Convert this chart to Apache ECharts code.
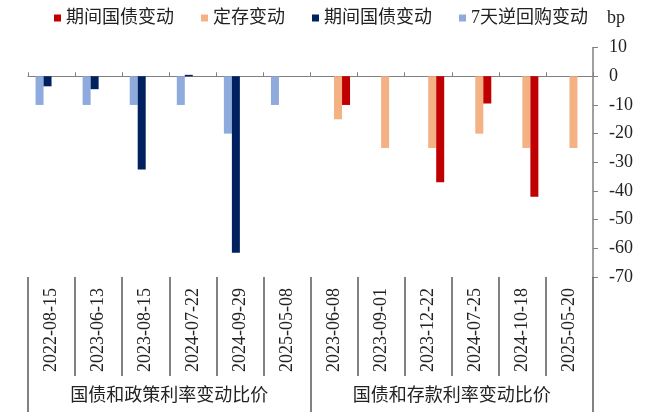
<!DOCTYPE html>
<html>
<head>
<meta charset="utf-8">
<script src="https://cdn.jsdelivr.net/npm/echarts@6/dist/echarts.min.js"></script>
<style>
  html, body { margin: 0; padding: 0; background: #fff; }
  #main { width: 650px; height: 419px; }
</style>
</head>
<body>
<div id="main"></div>
<script>
// 日期（横轴分类）
const dates = [
  '2022-08-15', '2023-06-13', '2023-08-15', '2024-07-22', '2024-09-29', '2025-05-08',
  '2023-06-08', '2023-09-01', '2023-12-22', '2024-07-25', '2024-10-18', '2025-05-20'
]
const groups = ['国债和政策利率变动比价', '国债和存款利率变动比价']

// 单位 bp
const repoChange = [-10, -10, -10, -10, -20, -10, null, null, null, null, null, null]
const bondVsPolicy = [-3.5, -4.5, -32.5, 0.5, -61.5, 0, null, null, null, null, null, null]
const depositChange = [null, null, null, null, null, null, -15, -25, -25, -20, -25, -25]
const bondVsDeposit = [null, null, null, null, null, null, -10, 0, -37, -9.5, -42, 0]

const serif = "'Liberation Serif', 'Noto Sans CJK SC'"
const lineGray = '#808080'
const sepGray = '#5a5a5a'

let chart = echarts.init(document.querySelector('#main'))

let option = {
  animation: false,
  color: ['#8faadc', '#002060', '#f4b183', '#c00000'],
  legend: {
    left: 54,
    top: 9,
    padding: 0,
    itemWidth: 7,
    itemHeight: 7,
    itemGap: 27,
    icon: 'rect',
    // 两个"期间国债变动"系列名字相同，用后缀区分再去掉
    data: ['期间国债变动#2', '定存变动', '期间国债变动#1', '7天逆回购变动'],
    formatter: function (name) {
      return name.replace(/#\d$/, '')
    },
    textStyle: {
      fontFamily: serif,
      fontSize: 18,
      color: '#222'
    }
  },
  grid: {
    left: 28,
    right: 57,
    top: 47.6,
    bottom: 142
  },
  xAxis: [
    // 零轴
    {
      type: 'category',
      data: dates,
      axisLine: { onZero: true, lineStyle: { color: lineGray, width: 1 } },
      axisTick: { show: true, inside: true, length: 4, interval: 0, lineStyle: { color: lineGray } },
      axisLabel: { show: false }
    },
    // 底部日期标签和分隔线
    {
      type: 'category',
      data: dates,
      position: 'bottom',
      axisLine: { show: false, onZero: false },
      axisTick: { show: true, length: 99, interval: 0, lineStyle: { color: sepGray, width: 1.5 } },
      axisLabel: {
        interval: 0,
        rotate: 90,
        margin: 11,
        fontFamily: serif,
        fontSize: 18,
        color: '#222'
      }
    },
    // 分组标签
    {
      type: 'category',
      data: groups,
      position: 'bottom',
      axisLine: { show: false, onZero: false },
      axisTick: { show: true, length: 135, interval: 0, lineStyle: { color: sepGray, width: 1.5 } },
      axisLabel: {
        interval: 0,
        margin: 110,
        fontFamily: serif,
        fontSize: 18,
        color: '#222'
      }
    }
  ],
  yAxis: {
    type: 'value',
    position: 'right',
    min: -70,
    max: 10,
    interval: 10,
    name: 'bp',
    nameLocation: 'end',
    nameGap: 20,
    nameTextStyle: {
      fontFamily: serif,
      fontSize: 18,
      color: '#222',
      align: 'left',
      padding: [0, 0, 0, 14]
    },
    splitLine: { show: false },
    axisLine: { show: true, lineStyle: { color: lineGray, width: 1.5 } },
    axisTick: { show: true, length: 5, lineStyle: { color: lineGray } },
    axisLabel: {
      margin: 16,
      fontFamily: serif,
      fontSize: 18,
      color: '#222'
    }
  },
  series: [
    { type: 'bar', name: '7天逆回购变动', data: repoChange, barWidth: 8, barGap: '0%' },
    { type: 'bar', name: '期间国债变动#1', data: bondVsPolicy, barWidth: 8, barGap: '0%' },
    { type: 'bar', name: '定存变动', data: depositChange, barWidth: 8, barGap: '0%' },
    { type: 'bar', name: '期间国债变动#2', data: bondVsDeposit, barWidth: 8, barGap: '0%' }
  ]
}

chart.setOption(option)
</script>
</body>
</html>
